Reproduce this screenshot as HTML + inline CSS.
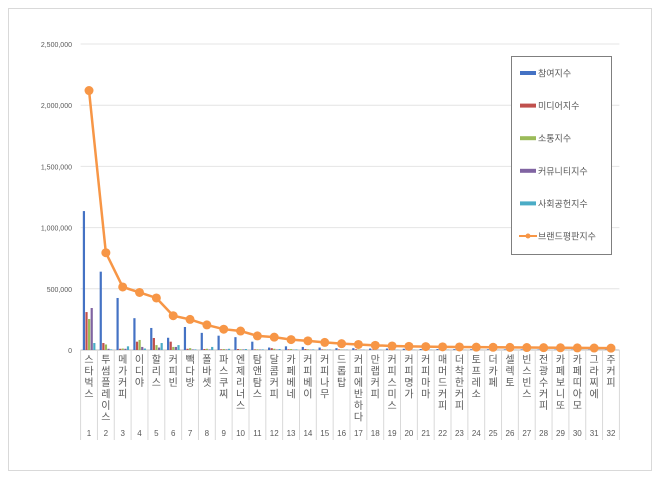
<!DOCTYPE html>
<html><head><meta charset="utf-8"><style>
body{margin:0;background:#fff;font-family:"Liberation Sans","Noto Sans CJK KR",sans-serif;}
svg text{font-family:"Liberation Sans","Noto Sans CJK KR",sans-serif;}
</style></head><body>
<svg id="c" width="660" height="480" xmlns="http://www.w3.org/2000/svg">
<rect x="8.5" y="8.5" width="643" height="462" fill="#fff" stroke="#d9d9d9"/>
<g id="grid"></g><g id="bars"></g><g id="line"></g><g id="xl"></g><g id="yl"></g><g id="leg"></g>
</svg>
<script>
const categories=["스타벅스","투썸플레이스","메가커피","이디야","할리스","커피빈","빽다방","폴바셋","파스쿠찌","엔제리너스","탐앤탐스","달콤커피","카페베네","커피베이","커피나무","드롭탑","커피에반하다","만랩커피","커피스미스","커피명가","커피마마","매머드커피","더착한커피","토프레소","더카페","셀렉토","빈스빈스","전광수커피","카페보니또","카페띠아모","그라찌에","주커피"];
const participation=[1135000,640000,425000,260000,180000,100000,188000,140000,117000,105000,68000,20000,30000,25000,20000,15000,15000,12000,12000,10000,8000,8000,7000,6000,6000,5000,5000,4000,4000,3000,3000,3000];
const media=[310000,57000,10000,68000,98000,68000,10000,8000,6000,8000,5000,15000,6000,8000,5000,5000,6000,4000,4000,3000,3000,3000,2000,2000,2000,2000,2000,2000,2000,1000,1000,1000];
const communication=[253000,45000,12000,82000,40000,25000,15000,10000,8000,6000,6000,10000,8000,6000,5000,4000,4000,3000,3000,3000,2000,2000,2000,2000,2000,2000,1000,1000,1000,1000,1000,1000];
const community=[343000,10000,10000,25000,20000,25000,5000,5000,5000,5000,4000,4000,3000,3000,3000,2000,2000,2000,2000,2000,1000,1000,1000,1000,1000,1000,1000,1000,1000,1000,1000,1000];
const social=[57000,5000,30000,12000,57000,40000,5000,25000,10000,8000,5000,8000,5000,5000,4000,3000,3000,2000,2000,2000,2000,2000,1000,1000,1000,1000,1000,1000,1000,1000,1000,1000];
const brandIndex=[2120000,795000,515000,470000,425000,280000,250000,205000,170000,155000,115000,105000,85000,75000,62000,52000,45000,38000,33000,30000,28000,26000,25000,23000,22000,21000,20000,19000,18000,17000,16000,15000];
const yTicks=[0,500000,1000000,1500000,2000000,2500000];
const seriesNames=["참여지수","미디어지수","소통지수","커뮤니티지수","사회공헌지수","브랜드평판지수"];
const colors=["#4472c4","#c0504d","#9bbb59","#8064a2","#4bacc6","#f79646"];
const NS="http://www.w3.org/2000/svg";
const L=80.6,R=619.4,T=44,B=350,YMAX=2500000;
const bw=(R-L)/categories.length;
const y=v=>B-(v/YMAX)*(B-T);
const xc=i=>L+bw*(i+0.5);
function mk(tag,attrs,parent,txt){const e=document.createElementNS(NS,tag);for(const k in attrs)e.setAttribute(k,attrs[k]);if(txt!==undefined)e.textContent=txt;document.getElementById(parent).appendChild(e);return e;}
yTicks.forEach(t=>{
 const g=mk('line',{x1:L,x2:R,y1:y(t),y2:y(t),stroke:t===0?'#bfbfbf':'#e4e4e4','stroke-width':1},'grid');
 
 
 const tx=mk('text',{x:72,y:y(t)+3,'text-anchor':'end','font-size':7,fill:'#595959'},'yl',t.toLocaleString('en-US'));
 
 
});
const series=[participation,media,communication,community,social];
const sw=2.2;
categories.forEach((c,i)=>{
 series.forEach((s,j)=>{
  const x0=xc(i)-6.2+j*2.6;
  const r=mk('rect',{x:x0,y:y(s[i]),width:sw,height:B-y(s[i]),fill:colors[j]},'bars');
  
  
 });
 const x=L+bw*i;
 const sep=mk('line',{x1:x,x2:x,y1:B,y2:440,stroke:'#d9d9d9'},'xl');
 
 
 const t=mk('text',{x:xc(i),y:360,'font-size':10,fill:'#595959','text-anchor':'middle'},'xl');
 
 
 [...c].forEach((ch,k)=>{const ts=document.createElementNS(NS,'tspan');ts.setAttribute('x',xc(i));ts.setAttribute('dy',k===0?'3':'11.5');ts.textContent=ch;t.appendChild(ts);});
 const n=mk('text',{x:xc(i),y:436,'font-size':8,fill:'#595959','text-anchor':'middle'},'xl',String(i+1));
 
 
});
const sepR=mk('line',{x1:R,x2:R,y1:B,y2:440,stroke:'#d9d9d9'},'xl');


const pl=mk('polyline',{points:brandIndex.map((v,i)=>xc(i)+','+y(v)).join(' '),fill:'none',stroke:colors[5],'stroke-width':2.5},'line');


brandIndex.forEach((v,i)=>{const p=mk('circle',{cx:xc(i),cy:y(v),r:4.5,fill:colors[5]},'line');
 
 });
const lb=mk('rect',{x:511.5,y:56.5,width:100,height:198,fill:'#fff',stroke:'#7f7f7f'},'leg');


seriesNames.forEach((nm,j)=>{
 const yy=73+j*32.6;
 if(j<5){const s=mk('rect',{x:520,y:yy-2,width:16,height:4,fill:colors[j]},'leg');
  
  }
 else{const s=mk('line',{x1:519,x2:537,y1:yy,y2:yy,stroke:colors[j],'stroke-width':2},'leg');
  
  
  const d=mk('circle',{cx:528,cy:yy,r:2.5,fill:colors[j]},'leg');
  
  }
 const t=mk('text',{x:538,y:yy+3.5,'font-size':9,fill:'#595959'},'leg',nm);
 
 
});
</script>
</body></html>
